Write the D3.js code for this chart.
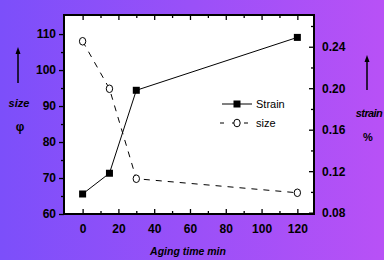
<!DOCTYPE html>
<html>
<head>
<meta charset="utf-8">
<script src="https://cdn.jsdelivr.net/npm/d3@7"></script>
<style>
  body { margin: 0; }
  text { font-family: "Liberation Sans", Arial, sans-serif; }
</style>
</head>
<body>
<div id="vis"></div>
<script>
// data
var agingTime = [0, 15, 30, 120];
var strainValues = [0.098, 0.118, 0.198, 0.249];
var sizeValues = [108, 94.8, 69.8, 65.9];
var xTicks = [0, 20, 40, 60, 80, 100, 120];
var sizeTicks = [60, 70, 80, 90, 100, 110];
var strainTicks = [0.08, 0.12, 0.16, 0.20, 0.24];

var width = 384, height = 260;
var margin = { top: 15, right: 70, bottom: 46, left: 64 };
var drawWidth = width - margin.left - margin.right,
    drawHeight = height - margin.top - margin.bottom;

var svg = d3.select("#vis").append("svg")
    .attr("width", width)
    .attr("height", height);

var grad = svg.append("defs").append("linearGradient")
    .attr("id", "bg")
    .attr("x1", "0%").attr("x2", "100%").attr("y1", "0%").attr("y2", "0%");
grad.append("stop").attr("offset", "0%").attr("stop-color", "#7c4ffa");
grad.append("stop").attr("offset", "100%").attr("stop-color", "#b851f6");

svg.append("rect")
    .attr("width", width).attr("height", height)
    .attr("fill", "url(#bg)");

var g = svg.append("g")
    .attr("transform", "translate(" + margin.left + "," + margin.top + ")");

var x = d3.scaleLinear().domain([-10.4, 129.3]).range([0, drawWidth]);
var ySize = d3.scaleLinear().domain([60, 115.3]).range([drawHeight, 0]);
var yStrain = d3.scaleLinear().domain([0.0787, 0.2706]).range([drawHeight, 0]);

g.append("rect")
    .attr("width", drawWidth).attr("height", drawHeight)
    .attr("fill", "#fff");

// minor ticks
var xMinor = d3.range(10, 130, 20);
var sizeMinor = d3.range(65, 115, 10);
var strainMinor = d3.range(0.10, 0.27, 0.04);

function styleAxis(sel) {
    sel.selectAll("path").remove();
    sel.selectAll("line").attr("stroke", "#000").attr("stroke-width", 1.3);
    sel.selectAll("text")
        .attr("font-size", 12)
        .attr("font-weight", "bold")
        .attr("fill", "#000");
}

// bottom axis, ticks inward
g.append("g")
    .attr("transform", "translate(0," + drawHeight + ")")
    .call(d3.axisBottom(x).tickValues(xTicks).tickSizeInner(-5).tickSizeOuter(0).tickPadding(10))
    .call(styleAxis);
g.append("g")
    .attr("transform", "translate(0," + drawHeight + ")")
    .call(d3.axisBottom(x).tickValues(xMinor).tickSize(-3).tickFormat(""))
    .call(styleAxis);

// top axis, ticks inward
g.append("g")
    .call(d3.axisTop(x).tickValues(xTicks).tickSize(-5).tickFormat(""))
    .call(styleAxis);
g.append("g")
    .call(d3.axisTop(x).tickValues(xMinor).tickSize(-3).tickFormat(""))
    .call(styleAxis);

// left axis, ticks outward
g.append("g")
    .call(d3.axisLeft(ySize).tickValues(sizeTicks).tickSize(5).tickPadding(3))
    .call(styleAxis);
g.append("g")
    .call(d3.axisLeft(ySize).tickValues(sizeMinor).tickSize(3).tickFormat(""))
    .call(styleAxis);

// right axis
g.append("g")
    .attr("transform", "translate(" + drawWidth + ",0)")
    .call(d3.axisRight(yStrain).tickValues(strainTicks).tickSize(-5).tickPadding(8)
        .tickFormat(d3.format(".2f")))
    .call(styleAxis);
g.append("g")
    .attr("transform", "translate(" + drawWidth + ",0)")
    .call(d3.axisRight(yStrain).tickValues(strainMinor).tickSize(-3).tickFormat(""))
    .call(styleAxis);

// frame
g.append("rect")
    .attr("width", drawWidth).attr("height", drawHeight)
    .attr("fill", "none").attr("stroke", "#000").attr("stroke-width", 2);

// size series: dashed line with open circles
var sizeData = agingTime.map(function(t, i) { return { t: t, v: sizeValues[i] }; });
var strainData = agingTime.map(function(t, i) { return { t: t, v: strainValues[i] }; });

g.append("path")
    .datum(sizeData)
    .attr("fill", "none").attr("stroke", "#000").attr("stroke-width", 1)
    .attr("stroke-dasharray", "6,6")
    .attr("d", d3.line().x(function(d) { return x(d.t); }).y(function(d) { return ySize(d.v); }));

g.selectAll(".sizept")
    .data(sizeData).enter().append("ellipse")
    .attr("class", "sizept")
    .attr("cx", function(d) { return x(d.t); })
    .attr("cy", function(d) { return ySize(d.v); })
    .attr("rx", 3.2).attr("ry", 3.8)
    .attr("fill", "#fff").attr("stroke", "#000").attr("stroke-width", 1);

// strain series: solid line with filled squares
g.append("path")
    .datum(strainData)
    .attr("fill", "none").attr("stroke", "#000").attr("stroke-width", 1)
    .attr("d", d3.line().x(function(d) { return x(d.t); }).y(function(d) { return yStrain(d.v); }));

g.selectAll(".strainpt")
    .data(strainData).enter().append("rect")
    .attr("class", "strainpt")
    .attr("x", function(d) { return x(d.t) - 3.5; })
    .attr("y", function(d) { return yStrain(d.v) - 3.5; })
    .attr("width", 7).attr("height", 7)
    .attr("fill", "#000");

// legend
var leg = svg.append("g");
leg.append("line").attr("x1", 222).attr("x2", 252).attr("y1", 104).attr("y2", 104)
    .attr("stroke", "#000");
leg.append("rect").attr("x", 233.5).attr("y", 100.5).attr("width", 7).attr("height", 7);
leg.append("text").attr("x", 256).attr("y", 108).attr("font-size", 11).text("Strain");
leg.append("line").attr("x1", 219).attr("x2", 253).attr("y1", 123).attr("y2", 123)
    .attr("stroke", "#000").attr("stroke-dasharray", "4,8").attr("stroke-dashoffset", -1);
leg.append("ellipse").attr("cx", 237).attr("cy", 123).attr("rx", 3.2).attr("ry", 3.8)
    .attr("fill", "#fff").attr("stroke", "#000");
leg.append("text").attr("x", 256).attr("y", 127).attr("font-size", 11).text("size");

// x axis title
svg.append("text")
    .attr("x", 188).attr("y", 255)
    .attr("text-anchor", "middle")
    .attr("font-size", 10.5).attr("font-weight", "bold").attr("font-style", "italic")
    .text("Aging time min");

// arrows and side labels
function arrow(xp, y1, y2) {
    svg.append("line").attr("x1", xp).attr("x2", xp).attr("y1", y2).attr("y2", y1 + 5)
        .attr("stroke", "#000").attr("stroke-width", 1.5);
    svg.append("path")
        .attr("d", "M" + (xp - 2.5) + "," + (y1 + 7) + "L" + xp + "," + y1 + "L" + (xp + 2.5) + "," + (y1 + 7) + "Z")
        .attr("fill", "#000");
}
arrow(18, 47, 83);
arrow(367, 55, 90);

svg.append("text").attr("x", 19).attr("y", 107).attr("text-anchor", "middle")
    .attr("font-size", 11).attr("font-weight", "bold").attr("font-style", "italic")
    .text("size");
svg.append("text").attr("x", 20).attr("y", 131).attr("text-anchor", "middle")
    .attr("font-size", 12).attr("font-weight", "bold")
    .text("φ");
svg.append("text").attr("x", 369).attr("y", 117).attr("text-anchor", "middle")
    .attr("font-size", 11).attr("font-weight", "bold").attr("font-style", "italic")
    .attr("letter-spacing", -0.6)
    .text("strain");
svg.append("text").attr("x", 368).attr("y", 141).attr("text-anchor", "middle")
    .attr("font-size", 11).attr("font-weight", "bold")
    .text("%");
</script>
</body>
</html>
